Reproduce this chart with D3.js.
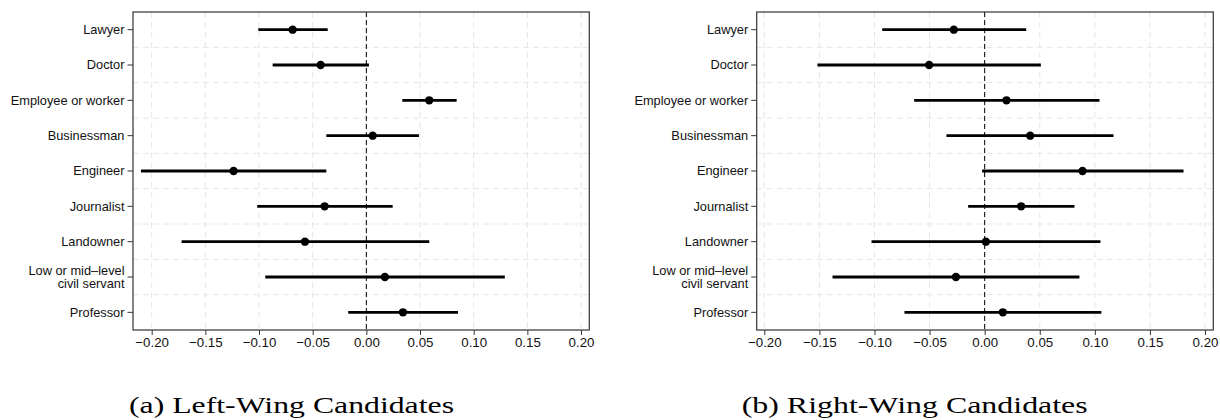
<!DOCTYPE html>
<html><head><meta charset="utf-8">
<script src="https://cdn.jsdelivr.net/npm/d3@7"></script>
<style>
html,body{margin:0;padding:0;background:#fff;}
svg{display:block;}
</style></head>
<body>
<svg id="chart" width="1220" height="420"></svg>
<script>
const categories = ["Lawyer","Doctor","Employee or worker","Businessman","Engineer","Journalist","Landowner","Low or mid\u2013level\ncivil servant","Professor"];
const tickValues = [-0.20,-0.15,-0.10,-0.05,0.00,0.05,0.10,0.15,0.20];
const tickLabels = ["\u22120.20","\u22120.15","\u22120.10","\u22120.05","0.00","0.05","0.10","0.15","0.20"];

// Left-wing
const leftEst  = [-0.0687,-0.0426, 0.0586, 0.0059,-0.1237,-0.0389,-0.0572, 0.0173, 0.0341];
const leftLow  = [-0.1007,-0.0873, 0.0335,-0.0373,-0.2100,-0.1017,-0.1721,-0.0942,-0.0169];
const leftHigh = [-0.0360, 0.0024, 0.0841, 0.0490,-0.0373, 0.0245, 0.0586, 0.1290, 0.0854];
// Right-wing
const rightEst  = [-0.0280,-0.0504, 0.0198, 0.0413, 0.0888, 0.0331, 0.0011,-0.0261, 0.0165];
const rightLow  = [-0.0930,-0.1518,-0.0640,-0.0347,-0.0023,-0.0150,-0.1027,-0.1381,-0.0728];
const rightHigh = [ 0.0377, 0.0510, 0.1042, 0.1169, 0.1805, 0.0815, 0.1051, 0.0860, 0.1059];

const captions = ["(a) Left-Wing Candidates","(b) Right-Wing Candidates"];

const svg = d3.select("#chart");

const panels = [
  {x0:133, x1:589.3, domain:[-0.2174,0.2077], est:leftEst, low:leftLow, high:leftHigh, cap:captions[0], capX:129, capW:325},
  {x0:756.7, x1:1213.3, domain:[-0.2069,0.2075], est:rightEst, low:rightLow, high:rightHigh, cap:captions[1], capX:741.7, capW:346}
];
const plotTop = 12, plotBottom = 330;

panels.forEach(p => {
  const x = d3.scaleLinear().domain(p.domain).range([p.x0, p.x1]);
  const y = d3.scaleBand().domain(categories).range([plotTop, plotBottom]);
  const bw = y.bandwidth();
  const g = svg.append("g");

  // vertical grid
  g.selectAll(".vg").data(tickValues).enter().append("line")
    .attr("x1", d=>x(d)).attr("x2", d=>x(d)).attr("y1", plotTop).attr("y2", plotBottom)
    .attr("stroke", "#e6e6e6").attr("stroke-width", 1).attr("stroke-dasharray", "6,4");
  // horizontal grid (between categories)
  g.selectAll(".hg").data(categories.slice(1)).enter().append("line")
    .attr("x1", p.x0).attr("x2", p.x1).attr("y1", d=>y(d)).attr("y2", d=>y(d))
    .attr("stroke", "#e6e6e6").attr("stroke-width", 1).attr("stroke-dasharray", "6,4");

  // zero line
  g.append("line").attr("x1", x(0)).attr("x2", x(0)).attr("y1", plotTop).attr("y2", plotBottom)
    .attr("stroke", "#000").attr("stroke-width", 1).attr("stroke-dasharray", "5,3");

  // error bars
  g.selectAll(".eb").data(categories).enter().append("line")
    .attr("x1", (d,i)=>x(p.low[i])).attr("x2", (d,i)=>x(p.high[i]))
    .attr("y1", d=>y(d)+bw/2).attr("y2", d=>y(d)+bw/2)
    .attr("stroke", "#000").attr("stroke-width", 2.8);
  g.selectAll(".pt").data(categories).enter().append("circle")
    .attr("cx", (d,i)=>x(p.est[i])).attr("cy", d=>y(d)+bw/2).attr("r", 4.2)
    .attr("fill", "#000");

  // frame
  g.append("rect").attr("x", p.x0).attr("y", plotTop).attr("width", p.x1-p.x0).attr("height", plotBottom-plotTop)
    .attr("fill", "none").attr("stroke", "#333").attr("stroke-width", 1.2);

  // x axis
  const xa = g.append("g").attr("transform", `translate(0,${plotBottom})`)
    .call(d3.axisBottom(x).tickValues(tickValues).tickSize(5).tickPadding(3)
      .tickFormat((d,i)=>tickLabels[i]));
  xa.select(".domain").remove();
  xa.selectAll("line").attr("stroke", "#333").attr("stroke-width", 1);
  xa.selectAll("text").attr("font-family", "'Liberation Sans', Arial, sans-serif")
    .attr("font-size", 13.3).attr("fill", "#111");

  // y axis
  const ya = g.append("g").attr("transform", `translate(${p.x0},0)`)
    .call(d3.axisLeft(y).tickSize(5.5).tickPadding(3).tickFormat(""));
  ya.select(".domain").remove();
  ya.selectAll("line").attr("stroke", "#333").attr("stroke-width", 1);
  ya.selectAll(".tick").each(function(d){
    const lines = d.split("\n");
    const t = d3.select(this).append("text")
      .attr("x", -8.5).attr("text-anchor", "end")
      .attr("font-family", "'Liberation Sans', Arial, sans-serif")
      .attr("font-size", 12.8).attr("fill", "#111");
    const lh = 13.7;
    lines.forEach((ln, k) => {
      t.append("tspan").attr("x", -8.5)
        .attr("y", (k - (lines.length-1)/2) * lh)
        .attr("dy", "0.35em").text(ln);
    });
  });

  // caption
  svg.append("text").attr("x", p.capX).attr("y", 413)
    .attr("font-family", "'Liberation Serif', 'Times New Roman', serif").attr("font-size", 23)
    .attr("textLength", p.capW).attr("lengthAdjust", "spacingAndGlyphs")
    .attr("fill", "#000").text(p.cap);
});
</script>
</body></html>
